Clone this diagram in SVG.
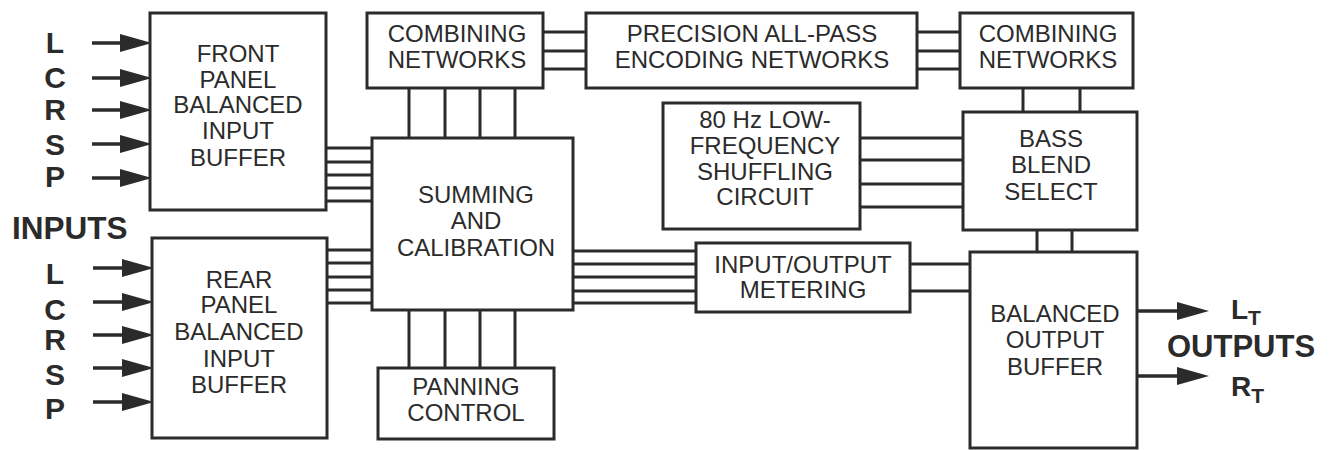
<svg xmlns="http://www.w3.org/2000/svg" width="1332" height="450" viewBox="0 0 1332 450">
<style>
.box{fill:#fff;stroke:#2b2b2b;stroke-width:3}
.w{stroke:#2b2b2b;stroke-width:3;fill:none}
.t{font-family:"Liberation Sans",Arial,sans-serif;font-size:24px;fill:#2b2b2b;text-anchor:middle}
.b{font-family:"Liberation Sans",Arial,sans-serif;font-weight:bold;fill:#2b2b2b}
.io{font-size:30px;text-anchor:middle}
.arr{stroke:#2b2b2b;stroke-width:3.5;fill:none;marker-end:url(#ah)}
</style>
<defs>
<marker id="ah" markerUnits="userSpaceOnUse" markerWidth="34" markerHeight="20" refX="14" refY="9" orient="auto" viewBox="0 0 34 20">
<path d="M0,0 L32,9 L0,18 z" fill="#2b2b2b"/>
</marker>
</defs>
<rect width="1332" height="450" fill="#fff"/>

<g id="connectors">
<line class="arr" x1="92" y1="43" x2="134" y2="43"/>
<line class="arr" x1="92" y1="78" x2="134" y2="78"/>
<line class="arr" x1="92" y1="110" x2="134" y2="110"/>
<line class="arr" x1="92" y1="144" x2="134" y2="144"/>
<line class="arr" x1="92" y1="178" x2="134" y2="178"/>
<line class="arr" x1="93" y1="268" x2="136" y2="268"/>
<line class="arr" x1="93" y1="302" x2="136" y2="302"/>
<line class="arr" x1="93" y1="335" x2="136" y2="335"/>
<line class="arr" x1="93" y1="368" x2="136" y2="368"/>
<line class="arr" x1="93" y1="402" x2="136" y2="402"/>
<line class="arr" x1="1137" y1="311" x2="1191" y2="311"/>
<line class="arr" x1="1137" y1="376" x2="1191" y2="376"/>
<path class="w" d="M326,148H372M326,162H372M326,175H372M326,188H372M326,201H372"/>
<path class="w" d="M327,250H372M327,263H372M327,277H372M327,290H372M327,303H372"/>
<path class="w" d="M573,251H696M573,264H696M573,277H696M573,291H696M573,303H696"/>
<path class="w" d="M409,88V138M445,88V138M480,88V138M515,88V138"/>
<path class="w" d="M409,310V368M445,310V368M480,310V368M515,310V368"/>
<path class="w" d="M543,32H586M543,51H586M543,69H586"/>
<path class="w" d="M917,32H960M917,51H960M917,69H960"/>
<path class="w" d="M1023,88V112M1080,88V112"/>
<path class="w" d="M860,138H963M860,160H963M860,184H963M860,207H963"/>
<path class="w" d="M1037,230V252M1072,230V252"/>
<path class="w" d="M910,264H970M910,291H970"/>
</g>

<g id="labels-inputs">
<text class="b io" x="55" y="53">L</text>
<text class="b io" x="55" y="88">C</text>
<text class="b io" x="55" y="120">R</text>
<text class="b io" x="55" y="155">S</text>
<text class="b io" x="55" y="187">P</text>
<text class="b" font-size="31.5" x="12" y="239">INPUTS</text>
<text class="b io" x="55" y="284">L</text>
<text class="b io" x="55" y="320">C</text>
<text class="b io" x="55" y="350">R</text>
<text class="b io" x="55" y="385">S</text>
<text class="b io" x="55" y="419">P</text>
</g>

<g id="labels-outputs">
<text class="b" font-size="28" x="1231" y="319">L<tspan font-size="21" dy="6">T</tspan></text>
<text class="b" font-size="31" x="1167" y="357">OUTPUTS</text>
<text class="b" font-size="28" x="1231" y="396">R<tspan font-size="21" dy="7">T</tspan></text>
</g>

<g id="front-panel">
<rect class="box" x="150" y="13" width="176" height="197"/>
<text class="t" x="238" y="62">FRONT</text>
<text class="t" x="238" y="88">PANEL</text>
<text class="t" x="238" y="113">BALANCED</text>
<text class="t" x="238" y="139">INPUT</text>
<text class="t" x="238" y="166">BUFFER</text>
</g>

<g id="rear-panel">
<rect class="box" x="152" y="238" width="175" height="200"/>
<text class="t" x="239" y="288">REAR</text>
<text class="t" x="239" y="313">PANEL</text>
<text class="t" x="239" y="340">BALANCED</text>
<text class="t" x="239" y="367">INPUT</text>
<text class="t" x="239" y="393">BUFFER</text>
</g>

<g id="summing">
<rect class="box" x="372" y="138" width="201" height="172"/>
<text class="t" x="476" y="203">SUMMING</text>
<text class="t" x="476" y="229">AND</text>
<text class="t" x="476" y="256">CALIBRATION</text>
</g>

<g id="combining1">
<rect class="box" x="367" y="13" width="176" height="75"/>
<text class="t" x="457" y="42">COMBINING</text>
<text class="t" x="457" y="68">NETWORKS</text>
</g>

<g id="precision">
<rect class="box" x="586" y="13" width="331" height="75"/>
<text class="t" x="752" y="42">PRECISION ALL-PASS</text>
<text class="t" x="752" y="68">ENCODING NETWORKS</text>
</g>

<g id="combining2">
<rect class="box" x="960" y="13" width="173" height="75"/>
<text class="t" x="1048" y="42">COMBINING</text>
<text class="t" x="1048" y="68">NETWORKS</text>
</g>

<g id="lowfreq">
<rect class="box" x="663" y="103" width="197" height="126"/>
<text class="t" x="765" y="128">80 Hz LOW-</text>
<text class="t" x="765" y="154">FREQUENCY</text>
<text class="t" x="765" y="180">SHUFFLING</text>
<text class="t" x="765" y="205">CIRCUIT</text>
</g>

<g id="bass-blend">
<rect class="box" x="963" y="112" width="174" height="118"/>
<text class="t" x="1051" y="147">BASS</text>
<text class="t" x="1051" y="173">BLEND</text>
<text class="t" x="1051" y="200">SELECT</text>
</g>

<g id="metering">
<rect class="box" x="696" y="243" width="214" height="69"/>
<text class="t" x="803" y="273">INPUT/OUTPUT</text>
<text class="t" x="803" y="298">METERING</text>
</g>

<g id="panning">
<rect class="box" x="378" y="368" width="176" height="71"/>
<text class="t" x="466" y="395">PANNING</text>
<text class="t" x="466" y="421">CONTROL</text>
</g>

<g id="output-buffer">
<rect class="box" x="970" y="252" width="167" height="196"/>
<text class="t" x="1055" y="322">BALANCED</text>
<text class="t" x="1055" y="348">OUTPUT</text>
<text class="t" x="1055" y="375">BUFFER</text>
</g>
</svg>
